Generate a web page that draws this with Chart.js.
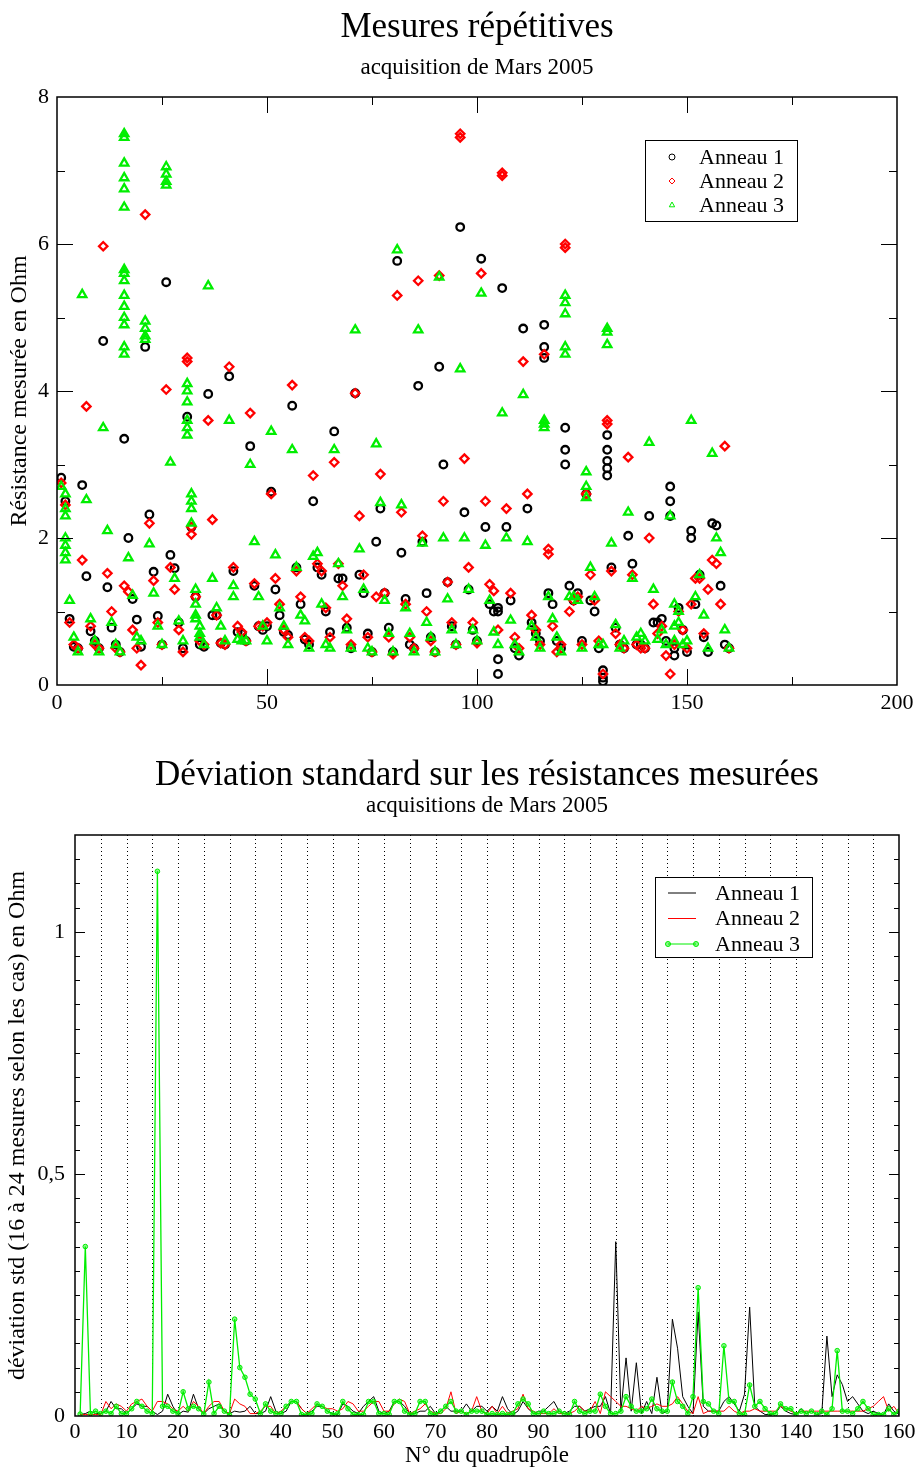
<!DOCTYPE html>
<html>
<head>
<meta charset="utf-8">
<script src="https://cdn.jsdelivr.net/npm/chart.js@4.4.0/dist/chart.umd.min.js"></script>
<style>
  html, body { margin: 0; padding: 0; background: #fff; }
  #wrap { position: relative; width: 919px; height: 1470px; }
  .box { position: absolute; left: 0; width: 919px; }
  #box1 { top: 0; height: 740px; }
  #box2 { top: 740px; height: 730px; }
</style>
</head>
<body>
<div id="wrap">
  <div class="box" id="box1"><canvas id="resChart"></canvas></div>
  <div class="box" id="box2"><canvas id="stdChart"></canvas></div>
</div>
<script>
// Quadrupole numbers 1..160
const quadIds = Array.from({ length: 160 }, (_, i) => i + 1);

// Measured resistance (Ohm), one value per quadrupole, per ring
const ring1Res = [
  2.82, 2.5, 0.9, 0.52, 0.5, 2.72, 1.48, 0.73, 0.6, 0.5,
  4.68, 1.33, 0.78, 0.55, 0.45, 3.35, 2.0, 1.17, 0.89, 0.52,
  4.6, 2.32, 1.54, 0.94, 0.55, 5.48, 1.77, 1.59, 0.85, 0.5,
  3.65, 2.15, 1.2, 0.55, 0.52, 3.96, 0.95, 0.95, 0.57, 0.55,
  4.2, 1.55, 0.72, 0.7, 0.6, 3.25, 1.35, 0.8, 0.75, 0.8,
  2.63, 1.3, 0.95, 0.72, 0.68, 3.8, 1.6, 1.1, 0.62, 0.55,
  2.5, 1.6, 1.5, 1.0, 0.72, 3.45, 1.45, 1.45, 0.78, 0.5,
  3.97, 1.5, 1.25, 0.7, 0.45, 1.95, 2.4, 1.25, 0.78, 0.45,
  5.77, 1.8, 1.17, 0.55, 0.5, 4.07, 1.95, 1.25, 0.65, 0.45,
  4.33, 3.0, 1.4, 0.8, 0.55, 6.23, 2.35, 1.3, 0.75, 0.6,
  5.8, 2.15, 1.1, 1.0, 1.05, 5.4, 2.15, 1.15, 0.5, 0.4,
  4.85, 2.4, 0.85, 0.7, 0.6, 4.9, 1.25, 1.1, 0.6, 0.5,
  3.5, 1.35, 1.15, 1.25, 0.6, 2.6, 1.15, 1.0, 0.5, 0.1,
  3.4, 1.6, 0.78, 0.55, 0.5, 2.03, 1.65, 0.55, 0.55, 0.5,
  2.3, 0.85, 0.85, 0.9, 0.6, 2.7, 0.5, 1.05, 0.75, 0.45,
  2.0, 1.1, 1.5, 0.65, 0.45, 2.2, 2.17, 1.35, 0.55, 0.5
];
const ring2Res = [
  2.75, 2.45, 0.85, 0.55, 0.5, 1.7, 3.79, 0.8, 0.55, 0.5,
  5.97, 1.52, 1.0, 0.5, 0.45, 1.35, 1.27, 0.75, 0.5, 0.27,
  6.4, 2.2, 1.42, 0.85, 0.55, 4.02, 1.6, 1.3, 0.75, 0.45,
  4.4, 2.15, 1.2, 0.6, 0.55, 3.6, 2.25, 0.95, 0.57, 0.55,
  4.33, 1.6, 0.8, 0.72, 0.6, 3.7, 1.38, 0.8, 0.8, 0.85,
  2.6, 1.45, 1.1, 0.75, 0.65, 4.08, 1.55, 1.2, 0.65, 0.6,
  2.85, 1.65, 1.55, 1.05, 0.65, 3.03, 1.65, 1.35, 0.9, 0.55,
  3.97, 2.3, 1.5, 0.65, 0.45, 1.2, 2.87, 1.25, 0.65, 0.42,
  5.3, 2.35, 1.1, 0.65, 0.5, 5.5, 2.03, 1.0, 0.6, 0.45,
  5.57, 2.5, 1.4, 0.85, 0.55, 7.5, 3.08, 1.6, 0.85, 0.57,
  5.6, 2.5, 1.37, 1.28, 0.75, 6.97, 2.4, 1.25, 0.65, 0.5,
  4.4, 2.6, 0.95, 0.75, 0.55, 4.5, 1.85, 0.8, 0.45, 0.55,
  6.0, 1.0, 1.15, 1.2, 0.55, 2.6, 1.5, 1.15, 0.6, 0.15,
  3.6, 1.55, 0.7, 0.55, 0.5, 3.1, 1.5, 0.55, 0.5, 0.5,
  2.0, 1.1, 0.7, 0.8, 0.4, 0.15, 0.55, 1.0, 0.75, 0.5,
  1.1, 1.45, 1.45, 0.7, 1.3, 1.7, 1.65, 1.1, 3.25, 0.5
];
const ring3Res = [
  2.7, 2.4, 1.15, 0.65, 0.45, 5.31, 2.52, 0.9, 0.6, 0.45,
  3.5, 2.1, 0.85, 0.55, 0.45, 5.6, 1.73, 1.22, 0.65, 0.6,
  4.85, 1.92, 1.25, 0.8, 0.55, 6.95, 3.03, 1.45, 0.87, 0.6,
  4.0, 2.5, 1.1, 0.8, 0.55, 5.43, 1.45, 1.05, 0.8, 0.6,
  3.6, 1.35, 0.62, 0.6, 0.6, 3.0, 1.95, 1.2, 0.8, 0.6,
  3.45, 1.77, 1.05, 0.8, 0.55, 3.2, 1.6, 0.95, 0.87, 0.5,
  1.75, 1.8, 1.1, 0.55, 0.5, 3.2, 1.65, 1.2, 0.75, 0.5,
  4.83, 1.85, 1.3, 0.5, 0.45, 3.28, 2.48, 1.15, 0.7, 0.45,
  5.92, 2.45, 1.05, 0.7, 0.45, 4.83, 1.93, 0.85, 0.65, 0.45,
  5.55, 2.0, 1.17, 0.75, 0.55, 4.3, 2.0, 1.3, 0.75, 0.6,
  5.33, 1.9, 1.15, 0.72, 0.55, 3.7, 2.0, 0.88, 0.55, 0.45,
  3.95, 1.95, 0.8, 0.65, 0.5, 3.55, 1.2, 0.9, 0.65, 0.45,
  5.3, 1.2, 1.2, 1.15, 0.5, 2.7, 1.6, 1.2, 0.55, 0.55,
  4.85, 1.93, 0.82, 0.5, 0.6, 2.35, 1.45, 0.65, 0.7, 0.6,
  3.3, 1.3, 0.62, 0.75, 0.55, 2.3, 0.8, 1.0, 0.55, 0.6,
  3.6, 1.2, 1.5, 0.95, 0.5, 3.15, 2.0, 1.8, 0.75, 0.5
];

// Repeated measurements that stand apart from the main value: [quadrupole, Ohm]
const ring1Extra = [
  [105, 0.15], [105, 0.35], [105, 1.0], [116, 4.45], [116, 4.6], [121, 3.2], [121, 3.0],
  [130, 0.05], [130, 0.2], [131, 3.2], [131, 3.05], [131, 2.95], [131, 2.85],
  [146, 2.5], [146, 2.3], [147, 0.4], [151, 2.1]
];
const ring2Extra = [
  [31, 4.45], [32, 2.05], [96, 7.45], [106, 6.93], [117, 1.78], [121, 5.95], [131, 3.55]
];
const ring3Extra = [
  [2, 2.6], [2, 2.3], [2, 2.0], [2, 1.9], [2, 1.8], [2, 1.7],
  [16, 7.5], [16, 7.45], [16, 7.1], [16, 6.9], [16, 6.75], [16, 6.5], [16, 5.65], [16, 5.5],
  [16, 5.3], [16, 5.15], [16, 5.0], [16, 4.9], [16, 4.6], [16, 4.5],
  [21, 4.95], [21, 4.75], [21, 4.7], [26, 7.05], [26, 6.85], [26, 6.8],
  [31, 4.1], [31, 3.85], [31, 3.6], [31, 3.5], [31, 3.4], [32, 2.6], [32, 2.4], [32, 2.2],
  [33, 1.3], [33, 0.95], [33, 0.9], [34, 0.7], [34, 0.65], [42, 1.2],
  [116, 3.6], [116, 3.5], [121, 5.2], [121, 5.05], [121, 4.6], [121, 4.5],
  [126, 2.9], [126, 2.55], [131, 4.8], [131, 4.63], [147, 1.1], [147, 0.6], [148, 0.85]
];

// Standard deviation (Ohm) per quadrupole, per ring
const ring1Std = [
  0.003, 0.005, 0.01, 0.005, 0.005, 0.01, 0.03, 0.015, 0.015, 0.005,
  0.015, 0.025, 0.02, 0.02, 0.01, 0.003, 0.01, 0.045, 0.02, 0.003,
  0.01, 0.008, 0.045, 0.015, 0.005, 0.015, 0.02, 0.025, 0.01, 0.005,
  0.01, 0.008, 0.01, 0.02, 0.005, 0.005, 0.01, 0.04, 0.01, 0.005,
  0.01, 0.03, 0.03, 0.015, 0.005, 0.01, 0.02, 0.02, 0.01, 0.005,
  0.003, 0.025, 0.02, 0.01, 0.005, 0.02, 0.03, 0.04, 0.01, 0.005,
  0.01, 0.03, 0.03, 0.02, 0.005, 0.005, 0.01, 0.01, 0.02, 0.005,
  0.01, 0.02, 0.01, 0.01, 0.01, 0.025, 0.01, 0.02, 0.02, 0.01,
  0.02, 0.01, 0.04, 0.015, 0.003, 0.01, 0.03, 0.015, 0.005, 0.01,
  0.01, 0.02, 0.03, 0.01, 0.005, 0.01, 0.02, 0.02, 0.01, 0.015,
  0.02, 0.02, 0.04, 0.005, 0.36, 0.01, 0.12, 0.01, 0.11, 0.005,
  0.03, 0.005, 0.08, 0.005, 0.01, 0.2, 0.14, 0.04, 0.02, 0.005,
  0.215, 0.02, 0.01, 0.01, 0.01, 0.03, 0.04, 0.025, 0.01, 0.045,
  0.225, 0.02, 0.01, 0.003, 0.003, 0.005, 0.02, 0.01, 0.005, 0.003,
  0.015, 0.005, 0.01, 0.003, 0.005, 0.165, 0.04, 0.085, 0.065, 0.03,
  0.04, 0.025, 0.01, 0.005, 0.01, 0.005, 0.003, 0.025, 0.01, 0.003
];
const ring2Std = [
  0.003, 0.003, 0.003, 0.003, 0.003, 0.03, 0.015, 0.025, 0.02, 0.01,
  0.025, 0.03, 0.035, 0.02, 0.01, 0.03, 0.03, 0.025, 0.015, 0.01,
  0.02, 0.01, 0.03, 0.02, 0.005, 0.02, 0.03, 0.03, 0.01, 0.005,
  0.035, 0.025, 0.02, 0.005, 0.005, 0.01, 0.02, 0.02, 0.005, 0.01,
  0.02, 0.03, 0.03, 0.015, 0.005, 0.015, 0.025, 0.02, 0.015, 0.015,
  0.01, 0.015, 0.03, 0.025, 0.01, 0.01, 0.02, 0.03, 0.03, 0.01,
  0.01, 0.025, 0.035, 0.03, 0.005, 0.01, 0.015, 0.025, 0.01, 0.005,
  0.005, 0.015, 0.05, 0.005, 0.01, 0.005, 0.01, 0.04, 0.01, 0.005,
  0.02, 0.005, 0.02, 0.005, 0.01, 0.015, 0.045, 0.015, 0.01, 0.005,
  0.005, 0.005, 0.015, 0.005, 0.005, 0.005, 0.01, 0.02, 0.01, 0.01,
  0.03, 0.005, 0.05, 0.04, 0.03, 0.02, 0.02, 0.015, 0.01, 0.02,
  0.015, 0.02, 0.025, 0.02, 0.02, 0.025, 0.04, 0.025, 0.01, 0.005,
  0.04, 0.005, 0.01, 0.01, 0.01, 0.01, 0.02, 0.01, 0.005, 0.01,
  0.01, 0.015, 0.01, 0.01, 0.01, 0.01, 0.02, 0.015, 0.01, 0.005,
  0.01, 0.01, 0.01, 0.01, 0.01, 0.01, 0.01, 0.01, 0.01, 0.01,
  0.01, 0.01, 0.01, 0.015, 0.02, 0.03, 0.04, 0.01, 0.02, 0.005
];
const ring3Std = [
  0.004, 0.35, 0.005, 0.01, 0.005, 0.01, 0.005, 0.02, 0.005, 0.005,
  0.015, 0.03, 0.02, 0.01, 0.005, 1.125, 0.02, 0.02, 0.01, 0.005,
  0.05, 0.015, 0.02, 0.015, 0.004, 0.07, 0.005, 0.02, 0.01, 0.002,
  0.2, 0.1, 0.08, 0.045, 0.035, 0.005, 0.025, 0.01, 0.005, 0.005,
  0.02, 0.03, 0.03, 0.003, 0.003, 0.005, 0.025, 0.02, 0.01, 0.003,
  0.005, 0.03, 0.015, 0.003, 0.003, 0.003, 0.03, 0.03, 0.005, 0.005,
  0.003, 0.03, 0.03, 0.01, 0.003, 0.005, 0.03, 0.03, 0.005, 0.003,
  0.01, 0.02, 0.03, 0.01, 0.01, 0.003, 0.01, 0.01, 0.01, 0.003,
  0.005, 0.003, 0.005, 0.003, 0.005, 0.025, 0.035, 0.025, 0.005, 0.005,
  0.01, 0.005, 0.005, 0.01, 0.005, 0.003, 0.03, 0.01, 0.005, 0.01,
  0.01, 0.045, 0.02, 0.005, 0.005, 0.01, 0.04, 0.02, 0.01, 0.01,
  0.015, 0.035, 0.015, 0.01, 0.01, 0.07, 0.03, 0.02, 0.005, 0.04,
  0.265, 0.03, 0.025, 0.01, 0.005, 0.145, 0.03, 0.03, 0.005, 0.003,
  0.064, 0.02, 0.03, 0.015, 0.005, 0.005, 0.025, 0.015, 0.015, 0.003,
  0.01, 0.005, 0.01, 0.003, 0.01, 0.003, 0.015, 0.135, 0.01, 0.01,
  0.005, 0.015, 0.03, 0.015, 0.003, 0.003, 0.003, 0.015, 0.003, 0.01
];

const ringNames = ['Anneau 1', 'Anneau 2', 'Anneau 3'];
const SERIF = "'Liberation Serif', 'DejaVu Serif', serif";
const BLACK = '#000000', RED = '#ff0000', GREEN = '#00ee00';

function scatterPoints(vals, extra) {
  const pts = vals.map((v, i) => ({ x: quadIds[i], y: v }));
  extra.forEach(e => pts.push({ x: e[0], y: e[1] }));
  return pts;
}
function linePoints(vals) {
  return vals.map((v, i) => ({ x: quadIds[i], y: v }));
}

// Title + subtitle centred over the plot area (not the whole canvas)
const plotTitles = {
  id: 'plotTitles',
  afterDraw(chart, args, o) {
    const { ctx, chartArea: a } = chart;
    const cx = (a.left + a.right) / 2;
    ctx.save();
    ctx.fillStyle = '#000';
    ctx.textAlign = 'center';
    ctx.textBaseline = 'middle';
    ctx.font = o.titleSize + 'px ' + SERIF;
    ctx.fillText(o.title, cx, o.titleY);
    ctx.font = o.subSize + 'px ' + SERIF;
    ctx.fillText(o.sub, cx, o.subY);
    ctx.restore();
  }
};

// Frame, inward ticks on all four sides, optional dotted verticals
const frameTicks = {
  id: 'frameTicks',
  beforeDatasetsDraw(chart, args, o) {
    if (!o.dotStep) return;
    const { ctx, chartArea: a, scales: { x } } = chart;
    ctx.save();
    ctx.strokeStyle = '#000';
    ctx.lineWidth = 1;
    ctx.setLineDash([1, 3]);
    const n = Math.round((x.max - x.min) / o.dotStep);
    for (let i = 1; i < n; i++) {
      const px = Math.round(x.getPixelForValue(x.min + i * o.dotStep)) + 0.5;
      ctx.beginPath();
      ctx.moveTo(px, a.top);
      ctx.lineTo(px, a.bottom);
      ctx.stroke();
    }
    ctx.restore();
  },
  afterDatasetsDraw(chart, args, o) {
    const { ctx, chartArea: a, scales: { x, y } } = chart;
    ctx.save();
    ctx.strokeStyle = '#000';
    ctx.lineWidth = 1;
    ctx.beginPath();
    if (o.xMinor) {
      const n = Math.round((x.max - x.min) / o.xMinor);
      for (let i = 1; i < n; i++) {
        const v = x.min + i * o.xMinor;
        const major = Math.abs(v / o.xMajor - Math.round(v / o.xMajor)) < 1e-6;
        const len = major ? o.majorLen : o.minorLen;
        const px = Math.round(x.getPixelForValue(v)) + 0.5;
        ctx.moveTo(px, a.bottom); ctx.lineTo(px, a.bottom - len);
        ctx.moveTo(px, a.top); ctx.lineTo(px, a.top + len);
      }
    }
    if (o.yMinor) {
      const n = Math.round((y.max - y.min) / o.yMinor);
      for (let i = 1; i < n; i++) {
        const v = y.min + i * o.yMinor;
        const major = Math.abs(v / o.yMajor - Math.round(v / o.yMajor)) < 1e-6;
        const len = major ? o.majorLen : o.minorLen;
        const py = Math.round(y.getPixelForValue(v)) + 0.5;
        ctx.moveTo(a.left, py); ctx.lineTo(a.left + len, py);
        ctx.moveTo(a.right, py); ctx.lineTo(a.right - len, py);
      }
    }
    ctx.stroke();
    ctx.lineWidth = 1.5;
    ctx.strokeRect(a.left, a.top, a.right - a.left, a.bottom - a.top);
    ctx.restore();
  }
};

function drawMarker(ctx, style, cx, cy, r) {
  ctx.beginPath();
  if (style === 'circle') {
    ctx.arc(cx, cy, r, 0, Math.PI * 2);
  } else if (style === 'rectRot') {
    ctx.moveTo(cx, cy - r); ctx.lineTo(cx + r, cy); ctx.lineTo(cx, cy + r); ctx.lineTo(cx - r, cy); ctx.closePath();
  } else if (style === 'triangle') {
    ctx.moveTo(cx, cy - r); ctx.lineTo(cx + r * 0.9, cy + r * 0.6); ctx.lineTo(cx - r * 0.9, cy + r * 0.6); ctx.closePath();
  }
}

// Boxed legend inside the plot area
const boxLegend = {
  id: 'boxLegend',
  afterDraw(chart, args, o) {
    const { ctx, chartArea: a } = chart;
    const bx = a.right - o.right, by = a.top + o.top;
    ctx.save();
    ctx.fillStyle = '#fff';
    ctx.fillRect(bx, by, o.width, o.height);
    ctx.strokeStyle = '#000';
    ctx.lineWidth = 1;
    ctx.strokeRect(bx + 0.5, by + 0.5, o.width, o.height);
    ctx.font = '22px ' + SERIF;
    ctx.textBaseline = 'middle';
    ctx.textAlign = 'left';
    chart.data.datasets.forEach((ds, i) => {
      const cy = by + o.rowTop + i * o.rowGap;
      ctx.strokeStyle = ds.borderColor;
      ctx.lineWidth = 1;
      if (o.kind === 'marker') {
        drawMarker(ctx, ds.pointStyle, bx + o.symX, cy, 3);
        ctx.stroke();
      } else {
        ctx.beginPath();
        ctx.moveTo(bx + o.symX - 14, cy);
        ctx.lineTo(bx + o.symX + 14, cy);
        ctx.stroke();
        if (ds.pointRadius > 0) {
          ctx.fillStyle = ds.pointBackgroundColor;
          [bx + o.symX - 14, bx + o.symX + 14].forEach(px => {
            ctx.beginPath(); ctx.arc(px, cy, 2.5, 0, Math.PI * 2); ctx.fill(); ctx.stroke();
          });
        }
      }
      ctx.fillStyle = '#000';
      ctx.fillText(ds.label, bx + o.textX, cy + 1);
    });
    ctx.restore();
  }
};

// Top chart: repeated measurements
new Chart(document.getElementById('resChart'), {
  type: 'scatter',
  data: {
    datasets: [
      { label: ringNames[0], data: scatterPoints(ring1Res, ring1Extra), pointStyle: 'circle',
        pointRadius: 3.8, borderColor: BLACK, backgroundColor: 'transparent', borderWidth: 2.3, order: 2 },
      { label: ringNames[1], data: scatterPoints(ring2Res, ring2Extra), pointStyle: 'rectRot',
        pointRadius: 4.2, borderColor: RED, backgroundColor: 'transparent', borderWidth: 2.3, order: 1 },
      { label: ringNames[2], data: scatterPoints(ring3Res, ring3Extra), pointStyle: 'triangle',
        pointRadius: 4.8, borderColor: GREEN, backgroundColor: 'transparent', borderWidth: 2.3, order: 0 }
    ]
  },
  options: {
    responsive: true,
    maintainAspectRatio: false,
    animation: false,
    devicePixelRatio: 1,
    layout: { padding: { left: 0, right: 22, top: 97, bottom: 0 } },
    plugins: {
      legend: { display: false },
      tooltip: { enabled: false },
      title: { display: false },
      plotTitles: { title: 'Mesures répétitives', sub: 'acquisition de Mars 2005',
        titleSize: 35, subSize: 23, titleY: 28, subY: 68 },
      frameTicks: { xMajor: 50, xMinor: 25, yMajor: 2, yMinor: 1, majorLen: 16, minorLen: 8 },
      boxLegend: { kind: 'marker', right: 252, top: 43, width: 152, height: 81,
        rowTop: 17, rowGap: 24, symX: 27, textX: 54 }
    },
    scales: {
      x: {
        type: 'linear', min: 0, max: 200,
        grid: { display: false, drawTicks: false }, border: { display: false },
        ticks: { stepSize: 50, color: '#000', padding: 4.8, font: { family: SERIF, size: 22 } },
        afterFit(scale) { scale.height = 55; }
      },
      y: {
        type: 'linear', min: 0, max: 8,
        grid: { display: false, drawTicks: false }, border: { display: false },
        ticks: { stepSize: 2, color: '#000', padding: 8, font: { family: SERIF, size: 22 } },
        title: { display: true, text: 'Résistance mesurée en Ohm', color: '#000',
          font: { family: SERIF, size: 24 }, padding: { top: 5.6, bottom: 0 } },
        afterFit(scale) { scale.width = 57; }
      }
    }
  },
  plugins: [frameTicks, boxLegend, plotTitles]
});

// Bottom chart: standard deviation
new Chart(document.getElementById('stdChart'), {
  type: 'line',
  data: {
    datasets: [
      { label: ringNames[0], data: linePoints(ring1Std), borderColor: BLACK, borderWidth: 1,
        pointRadius: 0, tension: 0, order: 2 },
      { label: ringNames[1], data: linePoints(ring2Std), borderColor: RED, borderWidth: 1,
        pointRadius: 0, tension: 0, order: 1 },
      { label: ringNames[2], data: linePoints(ring3Std), borderColor: GREEN, borderWidth: 1.3,
        pointRadius: 2.3, pointBorderWidth: 1, pointBorderColor: GREEN,
        pointBackgroundColor: 'rgba(0,238,0,0.45)', tension: 0, order: 0 }
    ]
  },
  options: {
    responsive: true,
    maintainAspectRatio: false,
    animation: false,
    devicePixelRatio: 1,
    layout: { padding: { left: 0, right: 20, top: 95, bottom: 0 } },
    plugins: {
      legend: { display: false },
      tooltip: { enabled: false },
      title: { display: false },
      plotTitles: { title: 'Déviation standard sur les résistances mesurées', sub: 'acquisitions de Mars 2005',
        titleSize: 35, subSize: 23, titleY: 36, subY: 66 },
      frameTicks: { dotStep: 5, yMajor: 0.5, yMinor: 0.05, majorLen: 10, minorLen: 5 },
      boxLegend: { kind: 'line', right: 244, top: 42, width: 157, height: 80,
        rowTop: 16, rowGap: 25.5, symX: 27, textX: 60 }
    },
    scales: {
      x: {
        type: 'linear', min: 0, max: 160,
        grid: { display: false, drawTicks: false }, border: { display: false },
        ticks: { stepSize: 10, color: '#000', padding: 2.8, font: { family: SERIF, size: 22 } },
        title: { display: true, text: 'N° du quadrupôle', color: '#000',
          font: { family: SERIF, size: 23 }, padding: { top: 0, bottom: 0 } },
        afterFit(scale) { scale.height = 54; }
      },
      y: {
        type: 'linear', min: 0, max: 1.2,
        grid: { display: false, drawTicks: false }, border: { display: false },
        ticks: { stepSize: 0.5, color: '#000', padding: 10, font: { family: SERIF, size: 22 },
          callback: v => Math.abs(v * 2 - Math.round(v * 2)) < 1e-9 ? String(v).replace('.', ',') : '' },
        title: { display: true, text: 'déviation std (16 à 24 mesures selon les cas) en Ohm', color: '#000',
          font: { family: SERIF, size: 24 }, padding: { top: 3.6, bottom: 0 } },
        afterFit(scale) { scale.width = 75; }
      }
    }
  },
  plugins: [frameTicks, boxLegend, plotTitles]
});
</script>
</body>
</html>
